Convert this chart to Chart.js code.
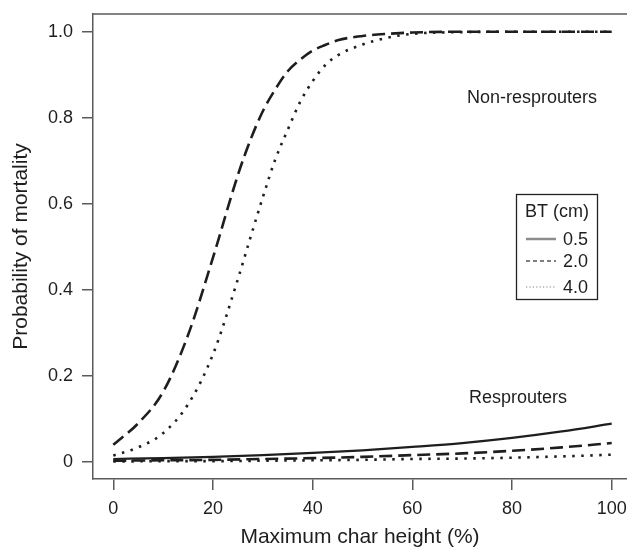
<!DOCTYPE html>
<html>
<head>
<meta charset="utf-8">
<script src="https://cdn.jsdelivr.net/npm/chart.js@4/dist/chart.umd.min.js"></script>
<style>
    html, body { margin: 0; padding: 0; background: #fff; }
    canvas { display: block; }
</style>
</head>
<body>
<canvas id="chart-mortality" width="627" height="548"></canvas>
<script>
// Char height values (%) where the curves are sampled
const xNonResprouters = [0, 5, 10, 15, 20, 25, 27.5, 30, 32.5, 35, 37.5, 40, 42.5, 45, 50, 55, 60, 70, 80, 90, 100];
const xResprouters = [0, 10, 20, 30, 40, 50, 60, 70, 80, 90, 100];

// Non-resprouters: probability of mortality by bark thickness
const nonResprouters20 = [0.040, 0.090, 0.163, 0.295, 0.475, 0.667, 0.748, 0.815, 0.866, 0.908, 0.935, 0.956, 0.969, 0.980, 0.990, 0.995, 0.998, 1.0, 1.0, 1.0, 1.0];
const nonResprouters40 = [0.015, 0.034, 0.067, 0.134, 0.250, 0.425, 0.521, 0.615, 0.703, 0.772, 0.837, 0.885, 0.922, 0.945, 0.970, 0.986, 0.995, 0.999, 1.0, 1.0, 1.0];

// Resprouters
const resprouters05 = [0.007, 0.009, 0.012, 0.016, 0.021, 0.027, 0.035, 0.044, 0.056, 0.071, 0.089];
const resprouters20 = [0.003, 0.004, 0.005, 0.007, 0.009, 0.012, 0.016, 0.020, 0.026, 0.034, 0.044];
const resprouters40 = [0.001, 0.002, 0.002, 0.003, 0.004, 0.005, 0.007, 0.008, 0.010, 0.013, 0.017];

// Axis ticks
const xTicks = [0, 20, 40, 60, 80, 100];
const yTicks = [0, 0.2, 0.4, 0.6, 0.8, 1.0];
const yTickLabels = ['0', '0.2', '0.4', '0.6', '0.8', '1.0'];

// Legend entries (bark thickness)
const legendTitle = 'BT (cm)';
const legendLabels = ['0.5', '2.0', '4.0'];

const INK = '#1e1e1e';
const AXIS = '#5a5a5a';
const FONT = '"Liberation Sans", Arial, Helvetica, sans-serif';

Chart.defaults.font.family = FONT;
Chart.defaults.color = INK;

function points(xs, ys) {
    return xs.map((x, i) => ({ x: x, y: ys[i] }));
}

// keep the plot box fixed: no extra room for half tick labels
function fixBox(scale, size) {
    if (scale.isHorizontal()) {
        scale.height = size;
    } else {
        scale.width = size;
    }
    scale.paddingLeft = 0;
    scale.paddingRight = 0;
    scale.paddingTop = 0;
    scale.paddingBottom = 0;
}

const dashed = [13, 6];
const dotted = [2.5, 6.5];

const datasets = [
    { data: points(xNonResprouters, nonResprouters20), borderDash: dashed, borderWidth: 2.6 },
    { data: points(xNonResprouters, nonResprouters40), borderDash: dotted, borderWidth: 2.6 },
    { data: points(xResprouters, resprouters05), borderDash: [], borderWidth: 2.2 },
    { data: points(xResprouters, resprouters20), borderDash: dashed, borderWidth: 2.6 },
    { data: points(xResprouters, resprouters40), borderDash: dotted, borderWidth: 2.6 }
].map(ds => Object.assign({
    borderColor: INK,
    backgroundColor: INK,
    pointRadius: 0,
    fill: false,
    cubicInterpolationMode: 'monotone'
}, ds));

// Top edge of the plot box, group labels and the BT legend
const decorations = {
    id: 'decorations',
    afterDraw(chart) {
        const ctx = chart.ctx;
        const area = chart.chartArea;
        const xs = chart.scales.x;
        const ys = chart.scales.y;

        ctx.save();
        ctx.strokeStyle = AXIS;
        ctx.lineWidth = 1.5;
        ctx.beginPath();
        ctx.moveTo(area.left, area.top);
        ctx.lineTo(area.right, area.top);
        ctx.stroke();

        ctx.fillStyle = INK;
        ctx.font = '18px ' + FONT;
        ctx.textAlign = 'center';
        ctx.textBaseline = 'middle';
        ctx.fillText('Non-resprouters', xs.getPixelForValue(84.0), ys.getPixelForValue(0.845));
        ctx.fillText('Resprouters', xs.getPixelForValue(81.2), ys.getPixelForValue(0.148));

        // legend box
        const bx = 516, by = 194, bw = 81, bh = 105;
        ctx.strokeStyle = '#222';
        ctx.lineWidth = 1.3;
        ctx.strokeRect(bx + 0.5, by + 0.5, bw, bh);

        ctx.textAlign = 'left';
        ctx.fillText(legendTitle, bx + 9, by + 18);

        const styles = [
            { dash: [], color: '#8c8c8c', width: 2.5 },
            { dash: [4, 3], color: '#555', width: 1.6 },
            { dash: [1.2, 2.2], color: '#aaa', width: 1.6 }
        ];
        const rows = [by + 45, by + 67, by + 93];
        legendLabels.forEach((label, i) => {
            const y = rows[i];
            ctx.save();
            ctx.strokeStyle = styles[i].color;
            ctx.lineWidth = styles[i].width;
            ctx.setLineDash(styles[i].dash);
            ctx.beginPath();
            ctx.moveTo(bx + 10, y);
            ctx.lineTo(bx + 40, y);
            ctx.stroke();
            ctx.restore();
            ctx.fillText(label, bx + 47, y + 1);
        });
        ctx.restore();
    }
};

const ctx = document.getElementById('chart-mortality').getContext('2d');
new Chart(ctx, {
    type: 'line',
    data: { datasets: datasets },
    options: {
        responsive: false,
        animation: false,
        layout: { padding: { top: 14, right: 0, left: 0, bottom: 0 } },
        plugins: {
            legend: { display: false },
            tooltip: { enabled: false }
        },
        scales: {
            x: {
                type: 'linear',
                min: -4.07,
                max: 103.07,
                afterBuildTicks: scale => { scale.ticks = xTicks.map(v => ({ value: v })); },
                afterFit: scale => fixBox(scale, 69),
                ticks: {
                    autoSkip: false,
                    maxRotation: 0,
                    padding: 8,
                    color: INK,
                    font: { size: 18 },
                    callback: v => String(v)
                },
                grid: {
                    drawOnChartArea: false,
                    drawTicks: true,
                    tickLength: 11,
                    color: AXIS,
                    lineWidth: 1.5
                },
                border: { color: AXIS, width: 1.5 },
                title: {
                    display: true,
                    text: 'Maximum char height (%)',
                    color: INK,
                    font: { size: 21 },
                    padding: { top: 0, bottom: -2 }
                }
            },
            y: {
                type: 'linear',
                min: -0.0395,
                max: 1.0411,
                afterBuildTicks: scale => { scale.ticks = yTicks.map(v => ({ value: v })); },
                afterFit: scale => fixBox(scale, 93),
                ticks: {
                    autoSkip: false,
                    padding: 9,
                    color: INK,
                    font: { size: 18 },
                    callback: v => yTickLabels[yTicks.indexOf(v)]
                },
                grid: {
                    drawOnChartArea: false,
                    drawTicks: true,
                    tickLength: 11,
                    color: AXIS,
                    lineWidth: 1.5
                },
                border: { color: AXIS, width: 1.5 },
                title: {
                    display: true,
                    text: 'Probability of mortality',
                    color: INK,
                    font: { size: 21 },
                    padding: { top: 9, bottom: 0 }
                }
            }
        }
    },
    plugins: [decorations]
});
</script>
</body>
</html>
